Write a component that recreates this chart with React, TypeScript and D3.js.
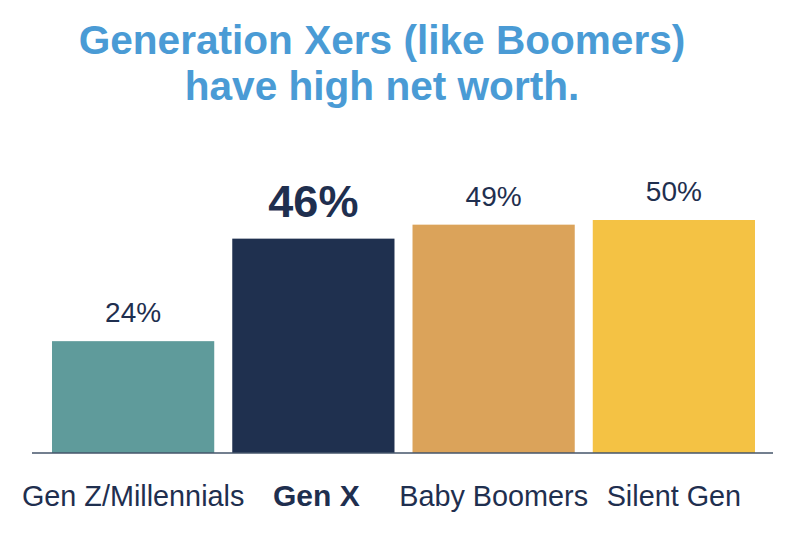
import React from "react";
import * as d3 from "d3";

const categories = ["Gen Z/Millennials", "Gen X", "Baby Boomers", "Silent Gen"];
const values = [24, 46, 49, 50];
const colors = ["#5f9b9b", "#1f304f", "#dba35a", "#f4c244"];
const highlighted = ["Gen X"];
const titleLines = ["Generation Xers (like Boomers)", "have high net worth."];

const W = 800;
const H = 550;
const baseline = 453;

export default function App() {
  const x = d3
    .scaleBand<string>()
    .domain(categories)
    .range([43, 764])
    .paddingInner(0.1)
    .paddingOuter(0.05);
  const y = d3.scaleLinear().domain([0, 50]).range([baseline, 220]);
  const font = "'Liberation Sans', Arial, Helvetica, sans-serif";
  const textColor = "#1f2f4f";

  return (
    <svg
      width={W}
      height={H}
      style={{ position: "absolute", left: 0, top: 0, background: "#fff" }}
      fontFamily={font}
    >
      {titleLines.map((t, i) => (
        <text
          key={t}
          x={382}
          y={54 + i * 46}
          textAnchor="middle"
          fontSize={40.6}
          fontWeight="bold"
          fill="#4a9bd5"
        >
          {t}
        </text>
      ))}
      {categories.map((c, i) => {
        const hl = highlighted.includes(c);
        const bx = x(c)!;
        const bw = x.bandwidth();
        const cx = bx + bw / 2;
        return (
          <g key={c}>
            <rect
              x={bx}
              y={y(values[i])}
              width={bw}
              height={baseline - y(values[i])}
              fill={colors[i]}
            />
            <text
              x={cx}
              y={y(values[i]) - (hl ? 22 : 19)}
              textAnchor="middle"
              fontSize={hl ? 45 : 28}
              fontWeight={hl ? "bold" : "normal"}
              fill={textColor}
            >
              {values[i]}%
            </text>
            <text
              x={cx + (hl ? 3 : 0)}
              y={506}
              textAnchor="middle"
              fontSize={hl ? 30 : 28.8}
              fontWeight={hl ? "bold" : "normal"}
              fill={textColor}
            >
              {c}
            </text>
          </g>
        );
      })}
      <line x1={32} x2={773} y1={baseline} y2={baseline} stroke="#44546a" strokeWidth={1.5} />
    </svg>
  );
}
